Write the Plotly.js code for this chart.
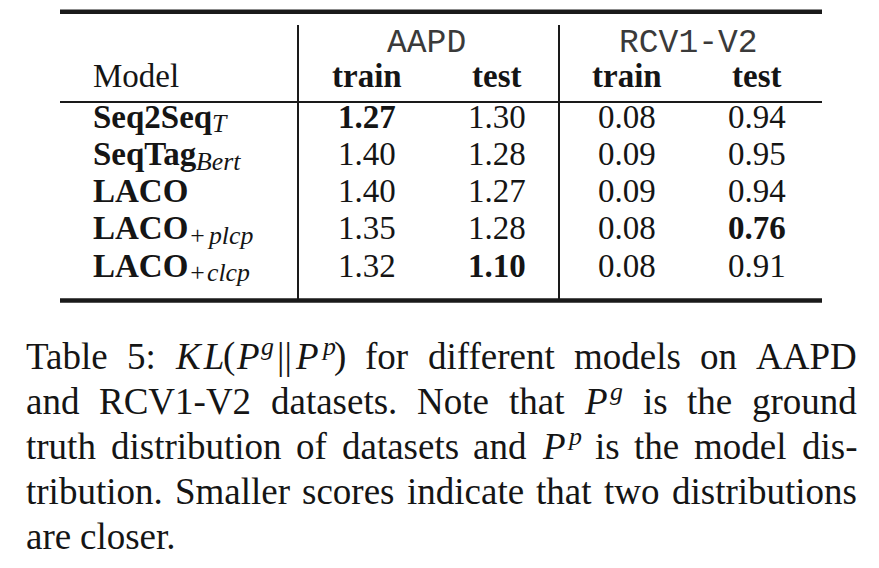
<!DOCTYPE html>
<html>
<head>
<meta charset="utf-8">
<script src="https://cdn.plot.ly/plotly-3.0.1.min.js"></script>
<style>
  html, body { margin: 0; padding: 0; background: #fff; }
  #tabla { width: 879px; height: 568px; }
</style>
</head>
<body>
<div id="tabla"></div>
<script>
// datos de la tabla
const modelos = ['Seq2Seq', 'SeqTag', 'LACO', 'LACO', 'LACO'];
const subindices = ['<i>T</i>', '<i>Bert</i>', '', '\u200a+\u200a<i>plcp</i>', '\u200a+\u200a<i>clcp</i>'];
const conjuntos = ['AAPD', 'RCV1-V2'];
const particiones = ['train', 'test', 'train', 'test'];
const aapdTrain = [1.27, 1.40, 1.40, 1.35, 1.32];
const aapdTest = [1.30, 1.28, 1.27, 1.28, 1.10];
const rcvTrain = [0.08, 0.09, 0.09, 0.08, 0.08];
const rcvTest = [0.94, 0.95, 0.94, 0.76, 0.91];
const negritas = [[0], [4], [], [3]]; // filas en negrita por columna
const leyenda = [
  'Table 5: <i>K\u200aL</i>(<i>P\u200a</i><sup><i>g</i></sup>\u200a||\u200a<i>P\u200a</i><sup><i>p</i></sup>) for different models on AAPD',
  'and RCV1-V2 datasets. Note that <i>P\u200a</i><sup><i>g</i></sup> is the ground',
  'truth distribution of datasets and <i>P\u200a</i><sup><i>p</i></sup> is the model dis-',
  'tribution. Smaller scores indicate that two distributions',
  'are closer.'
];

const SERIF = '"Liberation Serif", "Times New Roman", Times, serif';
const MONO = '"Liberation Mono", "Courier New", Courier, monospace';
const COLOR = '#151515';
// centro vertical de la caja de texto respecto a la linea base (em)
const medio = { [SERIF]: 0.3375, [MONO]: 0.2665 };

const lienzo = document.createElement('canvas').getContext('2d');
const anotaciones = [];

function segmentos(html) {
  const partes = [];
  let it = false, bo = false, sup = false, sub = false;
  const re = /<(\/?)(i|b|sup|sub)>|([^<]+)/g;
  let m;
  while ((m = re.exec(html)) !== null) {
    if (m[2]) {
      const on = m[1] !== '/';
      if (m[2] === 'i') it = on;
      else if (m[2] === 'b') bo = on;
      else if (m[2] === 'sup') sup = on;
      else sub = on;
    } else {
      partes.push({ texto: m[3], it, bo, sup, sub });
    }
  }
  return partes;
}

function medirPartes(html, tam, familia) {
  return segmentos(html).map(p => {
    const t = p.sup ? tam * 0.7 : p.sub ? tam * 0.78 : tam;
    lienzo.font = (p.it ? 'italic ' : '') + (p.bo ? 'bold ' : '') + t + 'px ' + familia;
    return Object.assign({}, p, { t, w: lienzo.measureText(p.texto).width });
  });
}

function ancho(html, tam, familia) {
  return medirPartes(html, tam, familia).reduce((s, p) => s + p.w, 0);
}

function escribir(html, x, base, tam, familia, ancla, color) {
  const partes = medirPartes(html, tam, familia);
  const total = partes.reduce((s, p) => s + p.w, 0);
  let cx = ancla === 'center' ? x - total / 2 : x;
  partes.forEach(p => {
    const b = base + (p.sup ? -0.36 * tam : p.sub ? 0.14 * tam : 0);
    anotaciones.push({
      x: cx, y: b - medio[familia] * p.t,
      xref: 'x', yref: 'y', xanchor: 'left', yanchor: 'middle',
      text: p.texto, showarrow: false, borderpad: 0, borderwidth: 0,
      font: { family: familia, size: p.t, color: color || COLOR,
              style: p.it ? 'italic' : 'normal', weight: p.bo ? 'bold' : 'normal' }
    });
    cx += p.w;
  });
}

// posiciones
const X_MODELO = 93;
const X_COL = 366.5, PASO_COL = 130;
const BASE_FILA = 128, PASO_FILA = 37.2;
const TAM_TABLA = 33;

escribir('Model', X_MODELO, 87, TAM_TABLA, SERIF, 'left');
conjuntos.forEach((c, i) => escribir(c, [427, 688][i], 52, TAM_TABLA, MONO, 'center', '#3a3a3a'));
particiones.forEach((p, i) => escribir('<b>' + p + '</b>', X_COL + PASO_COL * i, 87, TAM_TABLA, SERIF, 'center'));

modelos.forEach((m, r) => {
  const txt = '<b>' + m + '</b>' + (subindices[r] ? '<sub>' + subindices[r] + '</sub>' : '');
  escribir(txt, X_MODELO, BASE_FILA + PASO_FILA * r, TAM_TABLA, SERIF, 'left');
});

[aapdTrain, aapdTest, rcvTrain, rcvTest].forEach((col, c) => {
  col.forEach((v, r) => {
    const txt = v.toFixed(2);
    escribir(negritas[c].includes(r) ? '<b>' + txt + '</b>' : txt,
      X_COL + PASO_COL * c, BASE_FILA + PASO_FILA * r, TAM_TABLA, SERIF, 'center');
  });
});

// leyenda justificada
const TAM_LEY = 37, IZQ = 26, DER = 857, BASE_LEY = 368.5, PASO_LEY = 45.2;
leyenda.forEach((linea, i) => {
  const palabras = linea.split(' ');
  const anchos = palabras.map(w => ancho(w, TAM_LEY, SERIF));
  const suma = anchos.reduce((a, b) => a + b, 0);
  const ultima = i === leyenda.length - 1;
  const hueco = ultima ? TAM_LEY * 0.25 : (DER - IZQ - suma) / (palabras.length - 1);
  let x = IZQ;
  palabras.forEach((w, k) => {
    escribir(w, x, BASE_LEY + PASO_LEY * i, TAM_LEY, SERIF, 'left');
    x += anchos[k] + hueco;
  });
});

function regla(x0, y0, x1, y1, grosor) {
  return { type: 'line', xref: 'x', yref: 'y', x0, y0, x1, y1,
           line: { color: '#1a1a1a', width: grosor } };
}

const reglas = [
  regla(60, 11.75, 822, 11.75, 4.5),
  regla(60, 102, 822, 102, 2),
  regla(60, 300.5, 822, 300.5, 4.5),
  regla(298, 25, 298, 299, 2),
  regla(559, 25, 559, 299, 2)
];

const diseño = {
  width: 879, height: 568,
  margin: { l: 0, r: 0, t: 0, b: 0 },
  paper_bgcolor: '#fff', plot_bgcolor: '#fff',
  showlegend: false,
  xaxis: { range: [0, 879], visible: false, fixedrange: true },
  yaxis: { range: [568, 0], visible: false, fixedrange: true },
  shapes: reglas,
  annotations: anotaciones
};

Plotly.newPlot('tabla', [], diseño, { displayModeBar: false, staticPlot: true });
</script>
</body>
</html>
